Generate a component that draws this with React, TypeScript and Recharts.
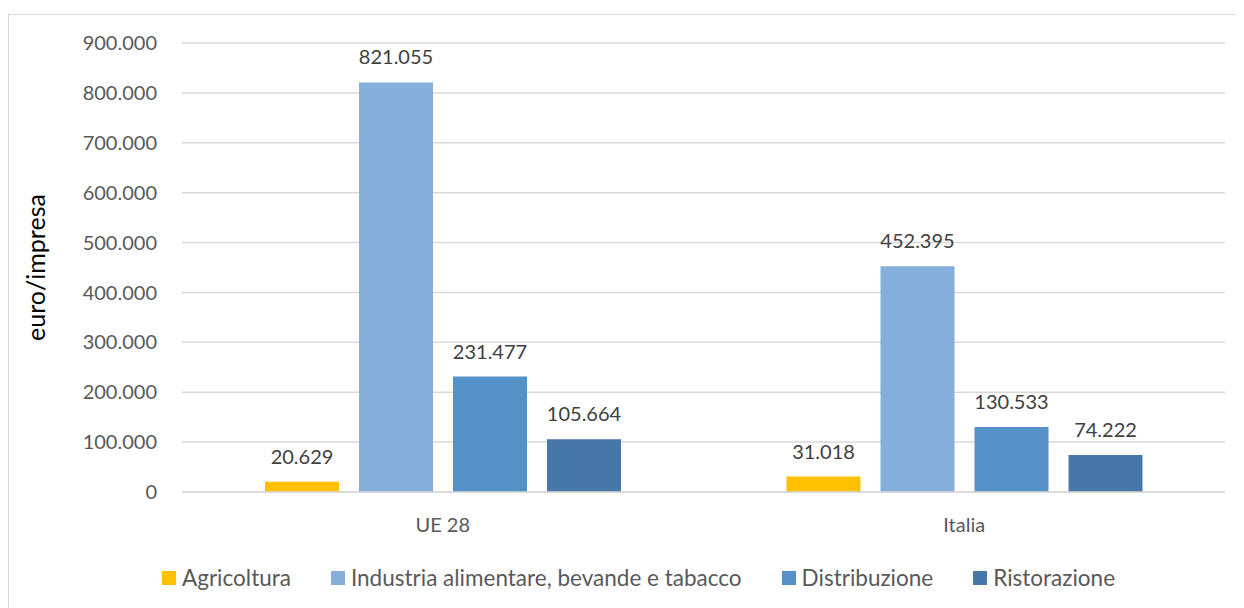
import React from 'react';
import { BarChart, Bar, XAxis, YAxis, CartesianGrid, LabelList, Legend } from 'recharts';

const categories = ['UE 28', 'Italia'];
const agricoltura = [20629, 31018];
const industria = [821055, 452395];
const distribuzione = [231477, 130533];
const ristorazione = [105664, 74222];
const yTicks = [0, 100000, 200000, 300000, 400000, 500000, 600000, 700000, 800000, 900000];
const seriesKeys = ['agricoltura', 'industria', 'distribuzione', 'ristorazione'];
const seriesNames = ['Agricoltura', 'Industria alimentare, bevande e tabacco', 'Distribuzione', 'Ristorazione'];
const seriesColors = ['#FFC000', '#85AEDB', '#5590C7', '#4677A8'];
const yLabel = 'euro/impresa';

const data = categories.map((c, i) => ({
  name: c,
  agricoltura: agricoltura[i],
  industria: industria[i],
  distribuzione: distribuzione[i],
  ristorazione: ristorazione[i],
}));

const FONT = 'Lato, "Open Sans", sans-serif';
const fmt = (v: number) => String(Math.round(v)).replace(/\B(?=(\d{3})+(?!\d))/g, '.');

const LegendContent = () => (
  <div style={{ display: 'flex', alignItems: 'center', fontFamily: FONT, fontSize: 22.5, color: '#595959', whiteSpace: 'nowrap' }}>
    {seriesNames.map((n, i) => (
      <div key={n} style={{ display: 'flex', alignItems: 'center', marginRight: 40 }}>
        <span style={{ display: 'inline-block', width: 14, height: 14, background: seriesColors[i], marginRight: 6 }} />
        <span>{n}</span>
      </div>
    ))}
  </div>
);

export default function App() {
  return (
    <div style={{ position: 'relative', width: 1236, height: 600 }}>
      <div style={{ position: 'absolute', left: 0, top: 6, width: 1240, height: 600, border: '1px solid #d9d9d9', boxSizing: 'border-box' }} />
      <BarChart
        width={1236}
        height={600}
        data={data}
        margin={{ top: 35, right: 19, left: 10, bottom: 76 }}
        barCategoryGap={83}
        barGap={20}
      >
        <CartesianGrid vertical={false} stroke="#d9d9d9" strokeWidth={1.5} />
        <XAxis
          dataKey="name"
          tickLine={false}
          axisLine={{ stroke: '#d9d9d9', strokeWidth: 1.5 }}
          tickMargin={20}
          tick={{ fill: '#595959', fontSize: 20, fontFamily: FONT }}
          height={40}
        />
        <YAxis
          width={164}
          domain={[0, 900000]}
          ticks={yTicks}
          tickFormatter={fmt}
          tickLine={false}
          axisLine={false}
          tickMargin={19}
          tick={{ fill: '#595959', fontSize: 20, fontFamily: FONT }}
          label={{
            value: yLabel,
            content: (p: any) => {
              const vb = p.viewBox || {};
              const cx = vb.x + 17;
              const cy = vb.y + vb.height / 2;
              return (
                <text x={cx} y={cy} transform={`rotate(-90, ${cx}, ${cy})`} textAnchor="middle" dominantBaseline="central" fill="#000" fontSize={25} fontFamily={FONT}>
                  {yLabel}
                </text>
              );
            },
          }}
        />
        <Legend
          layout="vertical"
          verticalAlign="middle"
          align="center"
          content={<LegendContent />}
          wrapperStyle={{ left: 154, top: 556, width: 1080, height: 28 }}
        />
        {seriesKeys.map((k, i) => (
          <Bar key={k} dataKey={k} name={seriesNames[i]} fill={seriesColors[i]} isAnimationActive={false}>
            <LabelList dataKey={k} position="top" offset={18} formatter={(v: any) => fmt(Number(v))} fill="#404040" fontSize={20} fontFamily={FONT} />
          </Bar>
        ))}
      </BarChart>
    </div>
  );
}
